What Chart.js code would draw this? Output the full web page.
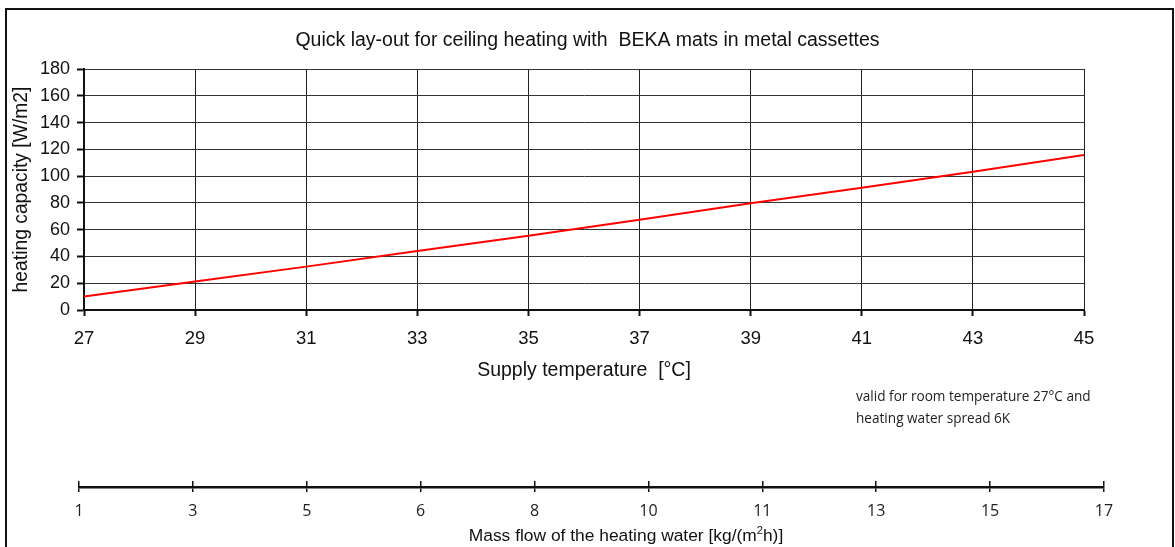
<!DOCTYPE html>
<html>
<head>
<meta charset="utf-8">
<script src="https://cdn.jsdelivr.net/npm/chart.js@4/dist/chart.umd.min.js"></script>
<style>
  html, body { margin: 0; padding: 0; background: #fff; width: 1175px; height: 547px; overflow: hidden; position: relative; }
  #frame { position: absolute; left: 5px; top: 8px; width: 1169px; height: 600px; border: 2px solid #111; box-sizing: border-box; }
  #c1 { position: absolute; left: 0; top: 0; }
  #c2 { position: absolute; left: 0; top: 460px; }
  #note { position: absolute; left: 856px; top: 385px; font-family: "Open Sans", sans-serif; font-size: 13.6px; line-height: 22px; color: #222; white-space: nowrap; }
  #flowTitle { position: absolute; left: 326px; width: 600px; top: 524px; text-align: center; font-family: "Liberation Sans", Arial, sans-serif; font-size: 17.4px; line-height: 22px; color: #111; white-space: nowrap; }
  #flowTitle sup { font-size: 11px; line-height: 0; }
</style>
</head>
<body>
<div id="frame"></div>
<canvas id="c1" width="1175" height="400"></canvas>
<canvas id="c2" width="1175" height="87"></canvas>
<div id="note">valid for room temperature 27°C and<br>heating water spread 6K</div>
<div id="flowTitle">Mass flow of the heating water [kg/(m<sup>2</sup>h)]</div>
<script>
// ---- data ----
const supplyTemps = [27, 29, 31, 33, 35, 37, 39, 41, 43, 45];
const heatingCapacity = [10, 21.2, 32.4, 44.1, 55.5, 67.4, 79.7, 91.3, 103.3, 115.8];
const massFlowLabels = ['1', '3', '5', '6', '8', '10', '11', '13', '15', '17'];
const titleText = 'Quick lay-out for ceiling heating with  BEKA mats in metal cassettes';
const xTitle = 'Supply temperature  [°C]';
const yTitle = 'heating capacity [W/m2]';

const mainFont = '"Liberation Sans", Arial, sans-serif';

new Chart(document.getElementById('c1'), {
  type: 'line',
  data: {
    datasets: [{
      data: supplyTemps.map((t, i) => ({ x: t, y: heatingCapacity[i] })),
      borderColor: '#ff0000',
      borderWidth: 2,
      pointRadius: 0,
      fill: false,
      tension: 0
    }]
  },
  options: {
    responsive: false,
    animation: false,
    layout: { padding: { left: 0, right: 0, top: 0, bottom: 0 } },
    plugins: {
      legend: { display: false },
      tooltip: { enabled: false },
      title: {
        display: true,
        text: titleText,
        color: '#111',
        font: { family: mainFont, size: 19.5, weight: 'normal' },
        padding: { top: 29, bottom: 16.6 }
      }
    },
    scales: {
      x: {
        type: 'linear',
        min: 27, max: 45,
        afterFit: s => { s.height = 90; },
        ticks: { stepSize: 2, color: '#111', padding: 12, font: { family: mainFont, size: 18.5 } },
        grid: { color: '#222', lineWidth: 1, tickLength: 6, tickColor: '#111', tickWidth: 2 },
        border: { display: true, color: '#111', width: 2 },
        title: { display: true, text: xTitle, color: '#111', font: { family: mainFont, size: 19.5 }, padding: { top: 0, bottom: 18 } }
      },
      y: {
        min: 0, max: 180,
        afterFit: s => { s.width = 84; },
        ticks: { stepSize: 20, color: '#111', padding: 7, font: { family: mainFont, size: 18 } },
        grid: { color: '#333', lineWidth: 1, tickLength: 7, tickColor: '#111', tickWidth: 2 },
        border: { display: true, color: '#111', width: 2 },
        title: { display: true, text: yTitle, color: '#111', font: { family: mainFont, size: 19.3 }, padding: { top: 10.5, bottom: 0 } }
      },
      yRightSpace: {
        position: 'right',
        min: 0, max: 180,
        afterFit: s => { s.width = 91; },
        ticks: { display: false },
        grid: { display: false },
        border: { display: false }
      }
    }
  }
});

new Chart(document.getElementById('c2'), {
  type: 'line',
  data: { labels: massFlowLabels, datasets: [{ data: [], borderWidth: 0, pointRadius: 0 }] },
  options: {
    responsive: false,
    animation: false,
    layout: { padding: { left: 79, right: 71, top: 21, bottom: 0 } },
    plugins: { legend: { display: false }, tooltip: { enabled: false } },
    scales: {
      x: {
        type: 'category',
        offset: false,
        afterFit: s => { s.height = 60; },
        ticks: { color: '#222', padding: 10, autoSkip: false, maxRotation: 0, font: { family: '"Open Sans", sans-serif', size: 16 } },
        grid: { display: true, drawOnChartArea: true, color: '#111', lineWidth: 1.5, tickLength: 5, tickColor: '#111', tickWidth: 1.5 },
        border: { display: true, color: '#111', width: 2.5 }
      },
      y: { display: false, min: 0, max: 1 }
    }
  }
});
</script>
</body>
</html>
